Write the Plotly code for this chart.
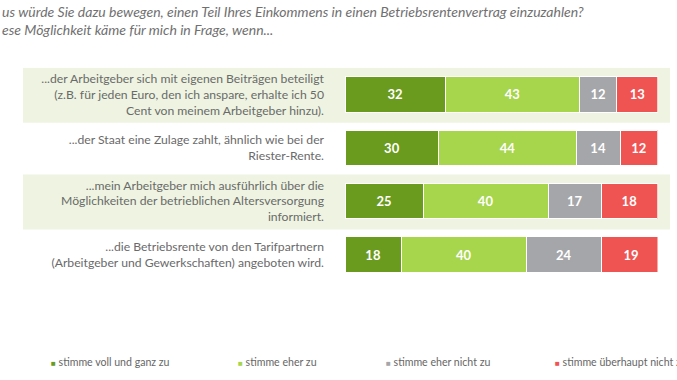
import plotly.graph_objects as go

categories = [
    "...der Arbeitgeber sich mit eigenen Beiträgen beteiligt<br>(z.B. für jeden Euro, den ich anspare, erhalte ich 50<br>Cent von meinem Arbeitgeber hinzu).",
    "...der Staat eine Zulage zahlt, ähnlich wie bei der<br>Riester-Rente.",
    "...mein Arbeitgeber mich ausführlich über die<br>Möglichkeiten der betrieblichen Altersversorgung<br>informiert.",
    "...die Betriebsrente von den Tarifpartnern<br>(Arbeitgeber und Gewerkschaften) angeboten wird.",
]
series_names = ["stimme voll und ganz zu", "stimme eher zu", "stimme eher nicht zu", "stimme überhaupt nicht zu"]
voll = [32, 30, 25, 18]
eher = [43, 44, 40, 40]
eher_nicht = [12, 14, 17, 24]
ueberhaupt_nicht = [13, 12, 18, 19]
title_lines = [
    "us würde Sie dazu bewegen, einen Teil Ihres Einkommens in einen Betriebsrentenvertrag einzuzahlen?",
    "ese Möglichkeit käme für mich in Frage, wenn...",
]

colors = ["#6b9b1e", "#a7d54c", "#a5a6a9", "#ef5453"]
values = [voll, eher, eher_nicht, ueberhaupt_nicht]
W, H = 677, 380
FONT = "Lato"

fig = go.Figure()
ypos = list(range(len(categories)))
for name, vals, col in zip(series_names, values, colors):
    fig.add_trace(go.Bar(
        y=ypos, x=vals, orientation="h", name=name,
        marker=dict(color=col, line=dict(color="white", width=1)),
        text=[str(v) for v in vals], textposition="inside",
        insidetextanchor="middle", textangle=0,
        textfont=dict(color="white", size=13, family=FONT, weight="bold"),
        width=0.66, showlegend=False,
    ))

# light green bands behind rows 1 and 3
for i in (0, 2):
    fig.add_shape(type="rect", xref="paper", yref="y",
                  x0=23 / W, x1=670 / W, y0=i - 0.5, y1=i + 0.53,
                  fillcolor="#eef4e1", line=dict(width=0), layer="below")

annotations = [
    dict(xref="paper", yref="paper", x=0, y=1 - 21 / H, xanchor="left", yanchor="middle",
         text="<i>" + "<br>".join(title_lines) + "</i>", align="left", showarrow=False,
         font=dict(family=FONT, size=14, color="#707070")),
]
legend_x = [49, 236, 384, 553]
for name, col, lx in zip(series_names, colors, legend_x):
    annotations.append(dict(
        xref="paper", yref="paper", x=lx / W, y=1 - 362 / H, xanchor="left", yanchor="middle",
        text=f"<span style='color:{col};font-size:8px'>■</span> {name}", showarrow=False,
        font=dict(family=FONT, size=10.6, color="#666666")))

fig.update_layout(
    width=W, height=H, barmode="stack", bargap=0.34,
    margin=dict(l=0, r=0, t=0, b=0),
    paper_bgcolor="white", plot_bgcolor="rgba(0,0,0,0)",
    xaxis=dict(domain=[345 / W, 657.5 / W], range=[0, 100], visible=False, fixedrange=True),
    yaxis=dict(domain=[1 - 281.2 / H, 1 - 67.8 / H], range=[3.5, -0.5], fixedrange=True,
               tickvals=ypos, ticktext=categories, showgrid=False, zeroline=False,
               showline=False, ticks="", ticklabelstandoff=20,
               tickfont=dict(family=FONT, size=12.2, color="#6a6a6a")),
    annotations=annotations,
    showlegend=False,
)
fig.write_html("out.html", config={"displayModeBar": False},
               post_script="document.body.style.margin='0';document.body.style.overflow='hidden';")
